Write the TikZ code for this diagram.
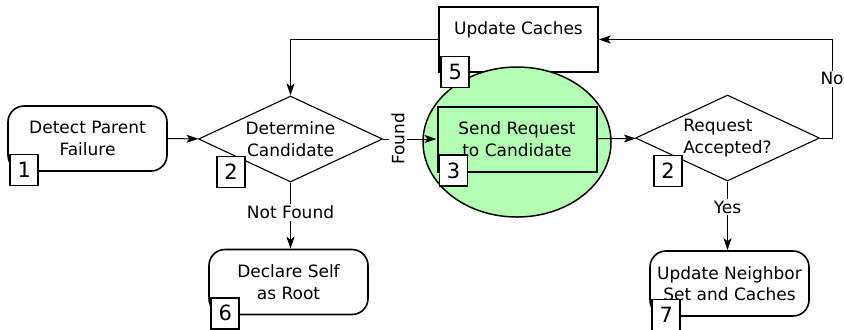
\documentclass[tikz,border=0pt]{standalone}
\usepackage{fontspec}
\setmainfont{DejaVu Sans}
\usetikzlibrary{arrows.meta,positioning,shapes.geometric,calc}
\definecolor{hlgreen}{RGB}{179,255,179}
\tikzset{
  % text of all nodes
  every node/.append style={font=\fontsize{8.5}{10.8}\selectfont},
  % rounded step box
  roundbox/.style={
    draw,
    line width=0.8pt,
    rounded corners=8pt,
    minimum width=79.5pt,
    minimum height=32.5pt,
    inner sep=0pt,
    align=center
  },
  % plain step box
  plainbox/.style={roundbox, rounded corners=0pt},
  % decision
  decision/.style={
    diamond,
    draw,
    line width=0.55pt,
    aspect=2.1,
    minimum width=92pt,
    minimum height=43pt,
    inner sep=0pt
  },
  % step number
  numbox/.style={
    draw,
    fill=white,
    line width=0.75pt,
    minimum width=14pt,
    minimum height=15.5pt,
    inner sep=0pt,
    font=\fontsize{10.5}{12}\selectfont
  },
  % arrows
  arr/.style={-{Stealth[length=6pt,width=4pt,inset=1.5pt]}, line width=0.5pt},
  arrlab/.style={fill=white, inner sep=1pt},
}

\begin{document}
\begin{tikzpicture}[x=0.5pt,y=-0.5pt]
  \useasboundingbox (0,0) rectangle (844,329);

  % Steps
  \node[roundbox] (detect) at (87.5,138.5) {Detect Parent\\Failure};
  \node[decision, align=center] (cand) at (290.5,139) {Determine\\Candidate};
  \node[plainbox, text depth=11.5pt] (cache) at (518.5,39.5) {Update Caches};

  % Highlight
  \draw[fill=hlgreen, line width=0.75pt] (517,142) ellipse [x radius=47pt, y radius=37.5pt];
  \node[plainbox, fill=hlgreen, line width=1pt] (send) at (517,139) {Send Request\\to Candidate};

  \node[decision, align=left] (acc) at (727.5,138) {Request\\Accepted?};
  \node[roundbox] (root) at (288.5,282) {Declare Self\\as Root};
  \node[roundbox] (nbr) at (729.5,283.5) {Update Neighbor\\Set and Caches};

  % Numbers
  \node[numbox] (n1) at ([shift={(17,-2)}]detect.south west) {1};
  \node[numbox] (n2a) at ([shift={(33,33)}]cand.west) {2};
  \node[numbox] (n3) at ([shift={(17,-2)}]send.south west) {3};
  \node[numbox] (n5) at ([shift={(17,-1)}]cache.south west) {5};
  \node[numbox] (n2b) at ([shift={(33,33)}]acc.west) {2};
  \node[numbox] (n6) at ([shift={(17,-2)}]root.south west) {6};
  \node[numbox] (n7) at ([shift={(17,-2)}]nbr.south west) {7};

  % Flow
  \draw[arr] (detect) -- (cand);
  \draw[arr] (cand) -- node[arrlab, rotate=90, pos=0.28] {Found} (send);
  \draw[arr] (send) -- (acc);
  \draw[arr] (acc.east) -- ++(12,0) |- node[arrlab, pos=0.3] {No} (cache.east);
  \draw[arr] (cache.west) -| (cand.north);
  \draw[arr] (cand.south) -- node[arrlab, pos=0.45] {Not Found} (cand.south |- root.north);
  \draw[arr] (acc.south) -- node[arrlab, pos=0.37] {Yes} (acc.south |- nbr.north);
\end{tikzpicture}
\end{document}
